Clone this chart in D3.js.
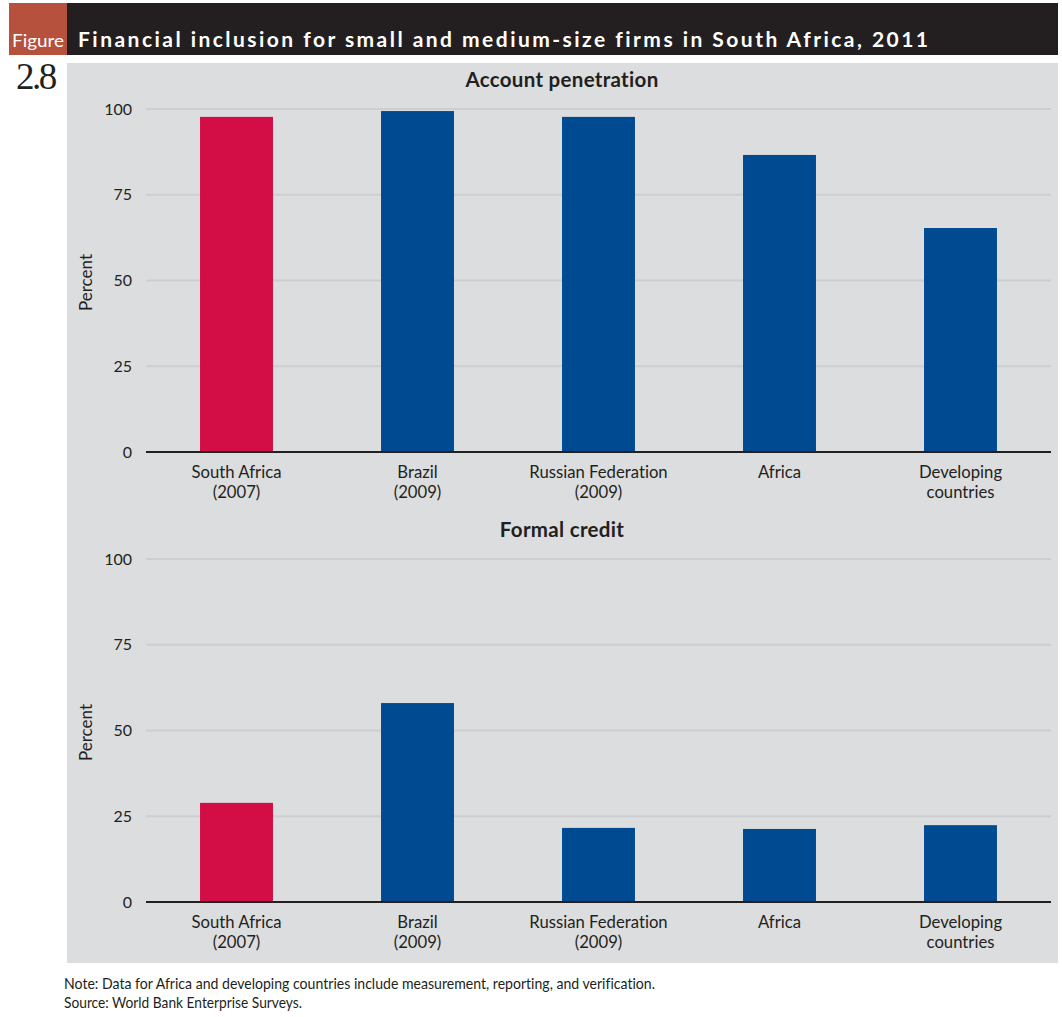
<!DOCTYPE html>
<html><head><meta charset="utf-8">
<script src="https://cdn.jsdelivr.net/npm/d3@7"></script>
<style>
body{margin:0;background:#fff;}
svg{display:block;}
text{font-variant-ligatures:none;}
</style></head>
<body>
<svg id="c" width="1062" height="1017"></svg>
<script>
const categories = ["South Africa|(2007)", "Brazil|(2009)", "Russian Federation|(2009)", "Africa", "Developing|countries"];
const accountPenetration = [97.7, 99.4, 97.7, 86.6, 65.3];
const formalCredit = [28.9, 58.0, 21.6, 21.3, 22.4];
const barColors = ["#d30d45", "#004a92", "#004a92", "#004a92", "#004a92"];
const yTicks = [0, 25, 50, 75, 100];
const panels = [
  {title: "Account penetration", values: accountPenetration},
  {title: "Formal credit", values: formalCredit}
];
const titleText = "Financial inclusion for small and medium-size firms in South Africa, 2011";
const noteLines = ["Note: Data for Africa and developing countries include measurement, reporting, and verification.",
                   "Source: World Bank Enterprise Surveys."];
const noteWidths = [591, 238];

const svg = d3.select("#c");
const sans = "Lato, 'Open Sans', sans-serif";

// header
svg.append("rect").attr("x", 67).attr("y", 3).attr("width", 991).attr("height", 52).attr("fill", "#231f20");
svg.append("rect").attr("x", 9).attr("y", 3).attr("width", 58).attr("height", 52).attr("fill", "#b5513d");
svg.append("text").attr("x", 12).attr("y", 47)
  .attr("font-family", sans).attr("font-size", 16.5)
  .attr("textLength", 52).attr("lengthAdjust", "spacingAndGlyphs")
  .attr("fill", "#fff").text("Figure");
svg.append("text").attr("x", 78).attr("y", 47)
  .attr("font-family", sans).attr("font-weight", "bold").attr("font-size", 21)
  .attr("textLength", 850).attr("lengthAdjust", "spacing")
  .attr("fill", "#fff").text(titleText);
svg.append("text").attr("x", 16).attr("y", 89)
  .attr("font-family", "'Liberation Serif', 'DejaVu Serif', serif").attr("font-size", 37)
  .attr("fill", "#231f20").attr("letter-spacing", -2.5).text("2.8");

// panel background
svg.append("rect").attr("x", 67).attr("y", 63).attr("width", 991).attr("height", 900).attr("fill", "#dcdddf");

const x = d3.scaleBand().domain(categories).range([146, 1051]).paddingInner(0.597).paddingOuter(0.2985);

const layouts = [{y0: 452, y100: 109, titleY: 87}, {y0: 902, y100: 559, titleY: 537}];

panels.forEach((p, pi) => {
  const L = layouts[pi];
  const y = d3.scaleLinear().domain([0, 100]).range([L.y0, L.y100]);
  const g = svg.append("g");

  g.selectAll("line.grid").data(yTicks.filter(t => t > 0)).enter().append("line")
    .attr("x1", 146).attr("x2", 1051).attr("y1", d => y(d)).attr("y2", d => y(d))
    .attr("stroke", "#ccced1").attr("stroke-width", 2);

  const ya = d3.axisLeft(y).tickValues(yTicks).tickSize(0).tickPadding(0);
  const yg = g.append("g").attr("transform", "translate(132,0)").call(ya);
  yg.select(".domain").remove();
  yg.selectAll("text").attr("font-family", sans).attr("font-size", 16).attr("fill", "#231f20").attr("dy", "0.32em");

  g.selectAll("rect.bar").data(p.values).enter().append("rect")
    .attr("x", (d, i) => x(categories[i])).attr("width", x.bandwidth())
    .attr("y", d => y(d)).attr("height", d => y(0) - y(d))
    .attr("fill", (d, i) => barColors[i]);

  const xa = d3.axisBottom(x).tickSize(0).tickFormat("");
  const xg = g.append("g").attr("transform", `translate(0,${y(0)})`).call(xa);
  xg.select(".domain").attr("stroke", "#231f20").attr("stroke-width", 2).attr("d", "M146,0H1051");
  xg.selectAll(".tick").each(function(d) {
    const t = d3.select(this).append("text").attr("fill", "#231f20").attr("font-family", sans)
      .attr("font-size", 16.7).attr("text-anchor", "middle").attr("y", 26);
    d.split("|").forEach((s, k) => t.append("tspan").attr("x", 0).attr("dy", k ? 20 : 0).text(s));
  });

  g.append("text").attr("x", 562).attr("y", L.titleY).attr("text-anchor", "middle")
    .attr("font-family", sans).attr("font-weight", "bold").attr("font-size", 20.5).attr("fill", "#231f20")
    .attr("letter-spacing", 0.3).text(p.title);

  g.append("text").attr("transform", `translate(92,${(y(0) + y(100)) / 2 + 2}) rotate(-90)`)
    .attr("text-anchor", "middle").attr("font-family", sans).attr("font-size", 17).attr("fill", "#231f20")
    .text("Percent");
});

noteLines.forEach((s, i) => {
  svg.append("text").attr("x", 64).attr("y", 989 + i * 19)
    .attr("font-family", sans).attr("font-size", 16)
    .attr("textLength", noteWidths[i]).attr("lengthAdjust", "spacingAndGlyphs")
    .attr("fill", "#231f20").text(s);
});
</script>
</body></html>
